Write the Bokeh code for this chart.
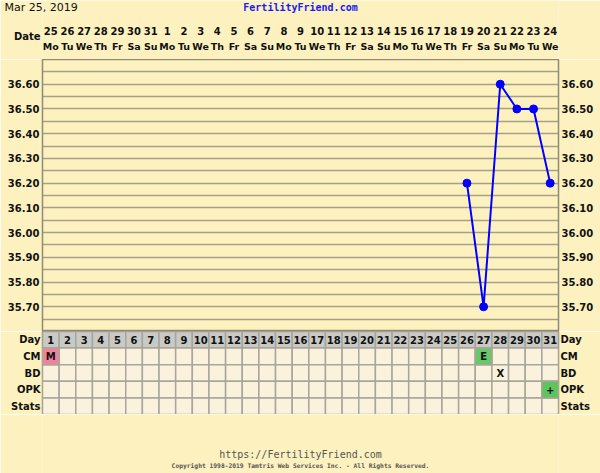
from bokeh.plotting import figure
from bokeh.layouts import column
from bokeh.models import Range1d, FactorRange, FixedTicker, LinearAxis, CategoricalAxis, ColumnDataSource
from bokeh.core.properties import value
from bokeh.embed import file_html
from bokeh.resources import INLINE

# ---------------- data ----------------
chart_date = "Mar 25, 2019"
site_name = "FertilityFriend.com"
cycle_days = list(range(1, 32))
dates = ["25", "26", "27", "28", "29", "30", "31", "1", "2", "3", "4", "5", "6", "7", "8", "9",
         "10", "11", "12", "13", "14", "15", "16", "17", "18", "19", "20", "21", "22", "23", "24"]
weekdays = ["Mo", "Tu", "We", "Th", "Fr", "Sa", "Su"] * 4 + ["Mo", "Tu", "We"]

temp_days = [26, 27, 28, 29, 30, 31]
temps = [36.20, 35.70, 36.60, 36.50, 36.50, 36.20]
temp_ticks = [35.70, 35.80, 35.90, 36.00, 36.10, 36.20, 36.30, 36.40, 36.50, 36.60]
temp_labels = ["35.70", "35.80", "35.90", "36.00", "36.10", "36.20", "36.30", "36.40", "36.50", "36.60"]

rows = ["Day", "CM", "BD", "OPK", "Stats"]
mark_days = [1, 27, 28, 31]
mark_rows = ["CM", "CM", "BD", "OPK"]
mark_text = ["M", "E", "X", "+"]
mark_colors = ["#F2829B", "#66C866", None, "#5EC55E"]

footer_url = "https://FertilityFriend.com"
footer_copy = "Copyright 1998-2019 Tamtris Web Services Inc. - All Rights Reserved."

# ---------------- style ----------------
BG = "#FDF2BF"
GRID = "#9C977F"
FONT = "DejaVu Sans"
MONO = "DejaVu Sans Mono"
W = 600
LB = 42
RB = 42
CW = (W - LB - RB) / 31.0
X0 = 0.5 - LB / CW          # data x of the canvas's left edge
XMID = 16.0                 # data x of the canvas centre


def make_fig(h, y_range):
    f = figure(width=W, height=h, x_range=Range1d(0.5, 31.5), y_range=y_range,
               output_backend="svg", toolbar_location=None,
               min_border_left=LB, min_border_right=RB, min_border_top=0, min_border_bottom=0,
               x_axis_type=None, y_axis_location=None)
    f.background_fill_color = BG
    f.border_fill_color = BG
    f.outline_line_color = None
    f.xgrid.visible = False
    f.ygrid.visible = False
    return f


def free_text(f, **kw):
    r = f.text(**kw)
    r.level = "overlay"
    return r


# ---------------- header ----------------
hdr = make_fig(59, Range1d(59, 0))
free_text(hdr, x=[X0 + 4 / CW], y=[7], text=[chart_date], text_font=value(FONT),
          text_font_size="11px", text_baseline="middle", text_align="left", text_color="#111111")
free_text(hdr, x=[XMID], y=[7], text=[site_name], text_font=value(MONO), text_font_style="bold",
          text_font_size="10px", text_baseline="middle", text_align="center", text_color="#1A1AF5")
free_text(hdr, x=[0.5 - 2 / CW], y=[36], text=["Date"], text_font=value(FONT), text_font_style="bold",
          text_font_size="10px", text_baseline="middle", text_align="right", text_color="#111111")
hsrc = ColumnDataSource(dict(x=cycle_days, d=dates, w=weekdays))
free_text(hdr, x="x", y=30, text="d", source=hsrc, text_font=value(FONT), text_font_style="bold",
          text_font_size="10px", text_baseline="middle", text_align="center", text_color="#111111")
free_text(hdr, x="x", y=46, text="w", source=hsrc, text_font=value(FONT), text_font_style="bold",
          text_font_size="9.5px", text_baseline="middle", text_align="center", text_color="#111111")

# ---------------- temperature chart ----------------
p = make_fig(272, Range1d(35.60, 36.70))
p.outline_line_color = "#8E8A78"
p.outline_line_width = 1.5
for loc in ("left", "right"):
    ax = LinearAxis(ticker=FixedTicker(ticks=temp_ticks),
                    major_label_overrides={t: l for t, l in zip(temp_ticks, temp_labels)})
    ax.axis_line_color = None
    ax.major_tick_line_color = None
    ax.minor_tick_line_color = None
    ax.major_tick_in = 0
    ax.major_tick_out = 0
    ax.major_label_standoff = 3
    ax.major_label_text_font = FONT
    ax.major_label_text_font_style = "bold"
    ax.major_label_text_font_size = "10px"
    ax.major_label_text_color = "#111111"
    p.add_layout(ax, loc)
p.xgrid.visible = True
p.ygrid.visible = True
p.xgrid.ticker = FixedTicker(ticks=[d + 0.5 for d in range(0, 32)])
p.ygrid.ticker = FixedTicker(ticks=[round(35.60 + 0.05 * k, 2) for k in range(0, 23)])
for g in (p.xgrid, p.ygrid):
    g.grid_line_color = GRID
    g.grid_line_width = 1.5
    g.grid_line_alpha = 0.9
p.line(temp_days, temps, line_color="#0000FF", line_width=2)
p.scatter(temp_days, temps, size=8, fill_color="#0000FF", line_color="#0000FF")

# ---------------- table ----------------
t = make_fig(83, FactorRange(*rows[::-1]))
t.outline_line_color = "#8E8A78"
t.outline_line_width = 1.5
for loc in ("left", "right"):
    ax = CategoricalAxis()
    ax.axis_line_color = None
    ax.major_tick_line_color = None
    ax.major_tick_in = 0
    ax.major_tick_out = 0
    ax.major_label_standoff = 2
    ax.major_label_text_font = FONT
    ax.major_label_text_font_style = "bold"
    ax.major_label_text_font_size = "10px"
    ax.major_label_text_color = "#111111"
    t.add_layout(ax, loc)
cx, cy, cf = [], [], []
for r in rows:
    for d in cycle_days:
        cx.append(d)
        cy.append(r)
        cf.append("#C9C9C6" if r == "Day" else "#FBF2DD")
t.rect(x=cx, y=cy, width=1, height=1, fill_color=cf, line_color="#A8A59A", line_width=1.5)
mx = [d for d, c in zip(mark_days, mark_colors) if c]
my = [r for r, c in zip(mark_rows, mark_colors) if c]
mc = [c for c in mark_colors if c]
t.rect(x=mx, y=my, width=1, height=1, fill_color=mc, line_color="#A8A59A", line_width=1.5)
t.text(x=cycle_days, y=["Day"] * len(cycle_days), text=[str(d) for d in cycle_days],
       text_font=value(FONT), text_font_style="bold", text_font_size="10px",
       text_align="center", text_baseline="middle", text_color="#111111")
t.text(x=mark_days, y=mark_rows, text=mark_text, text_font=value(FONT), text_font_style="bold",
       text_font_size="10px", text_align="center", text_baseline="middle", text_color="#111111")

# ---------------- footer ----------------
ftr = make_fig(59, Range1d(59, 0))
free_text(ftr, x=[XMID], y=[40], text=[footer_url], text_font=value(MONO), text_font_size="10px",
          text_align="center", text_baseline="middle", text_color="#555555")
free_text(ftr, x=[XMID], y=[51], text=[footer_copy], text_font=value(MONO), text_font_style="bold",
          text_font_size="6.3px", text_align="center", text_baseline="middle", text_color="#555555")

layout = column(hdr, p, t, ftr, spacing=0)
open("out.html", "w").write(file_html(layout, INLINE))
